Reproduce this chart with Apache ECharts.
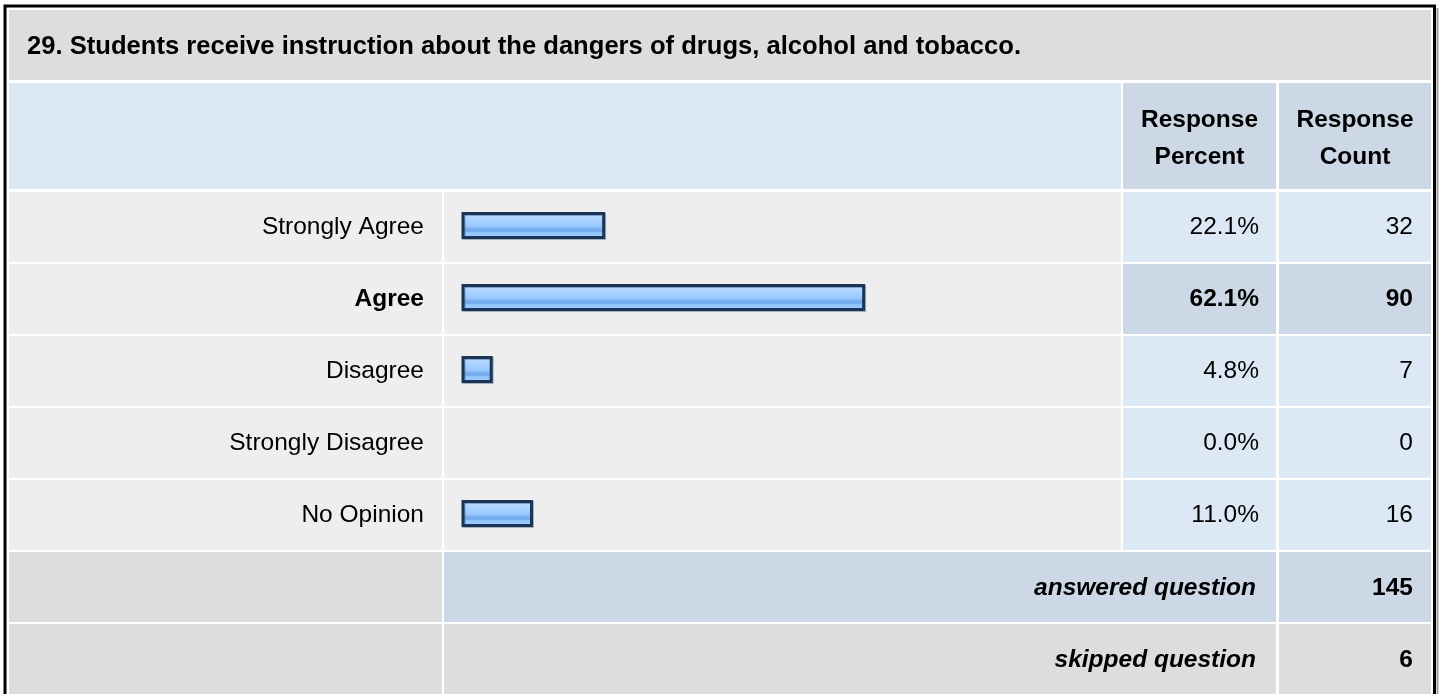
<!DOCTYPE html>
<html>
<head>
<meta charset="utf-8">
<title>Survey question 29</title>
<script src="https://cdn.jsdelivr.net/npm/echarts@6/dist/echarts.min.js"></script>
<style>
  html, body { margin: 0; padding: 0; background: #fff; }
  #chart { width: 1440px; height: 694px; }
</style>
</head>
<body>
<div id="chart"></div>
<script>
var questionTitle = '29. Students receive instruction about the dangers of drugs, alcohol and tobacco.';
var headerTitles = [['Response', 'Percent'], ['Response', 'Count']];
var categories = ['Strongly Agree', 'Agree', 'Disagree', 'Strongly Disagree', 'No Opinion'];
var percents = [22.1, 62.1, 4.8, 0.0, 11.0];
var counts = [32, 90, 7, 0, 16];
var summaryLabels = ['answered question', 'skipped question'];
var summaryCounts = [145, 6];

var chart = echarts.init(document.getElementById('chart'), null, { renderer: 'canvas' });

var FONT = '"Liberation Sans", Arial, Helvetica, sans-serif';
var FS = 24.5;

// table columns (left, right)
var colA = [9, 442], colB = [444, 1121], colC = [1123, 1276], colD = [1279, 1431];
var ROW0 = 192, ROWH = 72;

// highlight the most chosen answer
var maxIdx = 0;
for (var i = 1; i < counts.length; i++) {
    if (counts[i] > counts[maxIdx]) maxIdx = i;
}

var graphics = [];

function cell(x1, x2, y, h, color) {
    graphics.push({
        type: 'rect', z: 0, silent: true,
        shape: { x: x1, y: y, width: x2 - x1, height: h },
        style: { fill: color }
    });
}

function label(txt, x, y, align, weight, size) {
    graphics.push({
        type: 'text', z: 10, silent: true,
        style: {
            text: txt, x: x, y: y,
            font: weight + ' ' + (size || FS) + 'px ' + FONT,
            fill: '#000',
            align: align, verticalAlign: 'middle',
            textAlign: align, textVerticalAlign: 'middle'
        }
    });
}

// title row
cell(colA[0], colD[1], 10, 70, '#dddddd');
label(questionTitle, 27, 47, 'left', 'bold', 25.6);

// header row
cell(colA[0], colB[1], 83, 106, '#dde8f5');
cell(colC[0], colC[1], 83, 106, '#ccd8e6');
cell(colD[0], colD[1], 83, 106, '#ccd8e6');
label(headerTitles[0][0], (colC[0] + colC[1]) / 2, 120, 'center', 'bold');
label(headerTitles[0][1], (colC[0] + colC[1]) / 2, 157, 'center', 'bold');
label(headerTitles[1][0], (colD[0] + colD[1]) / 2, 120, 'center', 'bold');
label(headerTitles[1][1], (colD[0] + colD[1]) / 2, 157, 'center', 'bold');

// answer rows
for (var r = 0; r < categories.length; r++) {
    var y = ROW0 + r * ROWH;
    var hi = r === maxIdx;
    var w = hi ? 'bold' : 'normal';
    cell(colA[0], colA[1], y, 70, '#eeeeee');
    cell(colB[0], colB[1], y, 70, '#eeeeee');
    cell(colC[0], colC[1], y, 70, hi ? '#ccd8e6' : '#dde8f5');
    cell(colD[0], colD[1], y, 70, hi ? '#ccd8e6' : '#dde8f5');
    label(categories[r], 424, y + 35, 'right', w);
    label(percents[r].toFixed(1) + '%', 1259, y + 35, 'right', w);
    label(String(counts[r]), 1413, y + 35, 'right', w);
}

// answered / skipped rows
for (var s = 0; s < summaryLabels.length; s++) {
    var ys = ROW0 + categories.length * ROWH + s * ROWH;
    var c = s === 0 ? '#ccd8e6' : '#dddddd';
    var hs = s === summaryLabels.length - 1 ? 90 : 70;
    cell(colA[0], colA[1], ys, hs, '#dddddd');
    cell(colB[0], colC[1], ys, hs, c);
    cell(colD[0], colD[1], ys, hs, c);
    label(summaryLabels[s], 1256, ys + 36, 'right', 'italic bold');
    label(String(summaryCounts[s]), 1413, ys + 36, 'right', 'bold');
}

// outer frame
graphics.push({
    type: 'rect', z: 20, silent: true,
    shape: { x: 5, y: 6, width: 1429.5, height: 720 },
    style: { fill: 'none', stroke: '#000', lineWidth: 3 }
});
graphics.push({
    type: 'line', z: 20, silent: true,
    shape: { x1: 1437.5, y1: 8, x2: 1437.5, y2: 694 },
    style: { stroke: '#a0a0a0', lineWidth: 2 }
});

var barFill = new echarts.graphic.LinearGradient(0, 0, 0, 1, [
    { offset: 0, color: '#cde5ff' },
    { offset: 0.15, color: '#b5d9ff' },
    { offset: 0.4, color: '#a2cfff' },
    { offset: 0.56, color: '#94c5fc' },
    { offset: 0.6, color: '#78adf0' },
    { offset: 0.72, color: '#78adf0' },
    { offset: 0.76, color: '#91c4fd' },
    { offset: 1, color: '#a2d0ff' }
]);

var barData = percents.map(function(v) {
    return v > 0 ? { value: v } : { value: v, itemStyle: { borderWidth: 0 } };
});

var option = {
    backgroundColor: '#ffffff',
    animation: false,
    graphic: { elements: graphics },
    grid: { left: 461.5, top: 189.5, width: 650, height: 360 },
    xAxis: {
        type: 'value', min: 0, max: 100,
        show: false, splitLine: { show: false }
    },
    yAxis: {
        type: 'category', data: categories, inverse: true,
        show: false
    },
    series: [{
        type: 'bar',
        z: 5,
        silent: true,
        barWidth: 27,
        data: barData,
        itemStyle: {
            color: barFill,
            borderColor: '#1b3556',
            borderWidth: 3,
            shadowColor: 'rgba(40, 60, 90, 0.35)',
            shadowOffsetX: 1,
            shadowOffsetY: 1
        }
    }]
};

chart.setOption(option);
</script>
</body>
</html>
